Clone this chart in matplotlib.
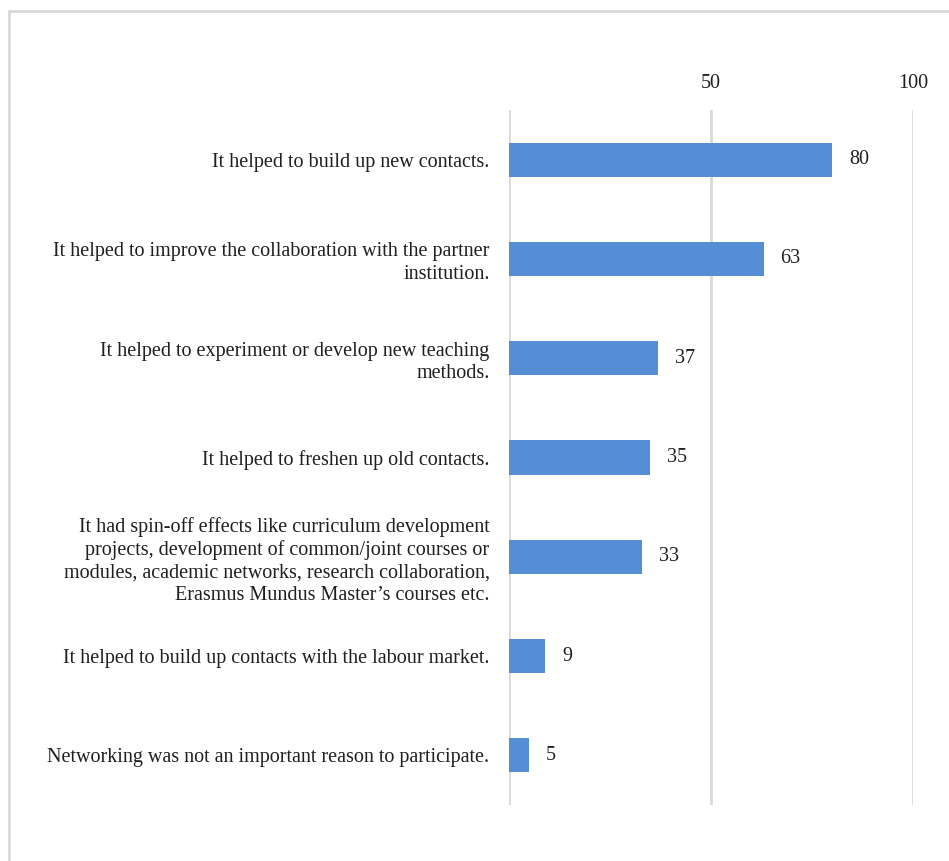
import matplotlib.pyplot as plt
from matplotlib.patches import Rectangle

labels = [
    "It helped to build up new contacts.",
    "It helped to improve the collaboration with the partner\ninstitution.",
    "It helped to experiment or develop new teaching\nmethods.",
    "It helped to freshen up old contacts.",
    "It had spin-off effects like curriculum development\nprojects, development of common/joint courses or\nmodules, academic networks, research collaboration,\nErasmus Mundus Master\u2019s courses etc.",
    "It helped to build up contacts with the labour market.",
    "Networking was not an important reason to participate.",
]
values = [80, 63, 37, 35, 33, 9, 5]
ticks = [0, 50, 100]
tick_labels = ["", "50", "100"]

plt.rcParams['font.family'] = ['Liberation Serif', 'DejaVu Serif']

fig = plt.figure(figsize=(9.49, 8.61), dpi=100)
ax = fig.add_axes([509 / 949, 1 - 805 / 861, (913 - 509) / 949, (805 - 110) / 861])

# light frame around the chart area
fig.patches.append(Rectangle((9 / 949, -0.1), 1.2, 1 - 11 / 861 + 0.1,
                             transform=fig.transFigure, fill=False,
                             edgecolor='#d9d9d9', linewidth=2))

y = list(range(len(values)))
ax.barh(y, values, height=0.345, color='#558ed5', zorder=3)
for yi, v in zip(y, values):
    ax.text(v + 4.2, yi, str(v), va='center', ha='left', fontsize=14.5, color='#1f1f1f')

ax.set_xlim(0, 100)
ax.set_ylim(6.5, -0.5)
ax.set_xticks(ticks)
ax.set_xticklabels(tick_labels)
ax.xaxis.tick_top()
ax.tick_params(axis='x', length=0, pad=12, labelsize=14.5, labelcolor='#1f1f1f')
ax.set_yticks(y)
ax.set_yticklabels(labels, fontsize=14.5, color='#1f1f1f', linespacing=1.25)
ax.tick_params(axis='y', length=0, pad=14)
ax.grid(axis='x', color='#d9d9d9', linewidth=2, zorder=0)
for s in ax.spines.values():
    s.set_visible(False)

fig.savefig('out.png', dpi=100)
